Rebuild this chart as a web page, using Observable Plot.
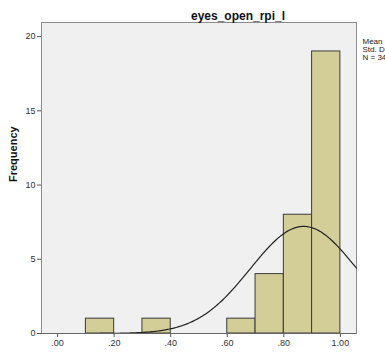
<!DOCTYPE html>
<html>
<head>
<meta charset="utf-8">
<script src="https://cdn.jsdelivr.net/npm/d3@7"></script>
<script src="https://cdn.jsdelivr.net/npm/@observablehq/plot@0.6"></script>
<style>
  body { margin: 0; background: #fff; }
  svg { font-family: Arial, "Liberation Sans", sans-serif; }
</style>
</head>
<body>
<div id="chart"></div>
<script>
const title = "eyes_open_rpi_l";
const binStarts = [0.1, 0.3, 0.6, 0.7, 0.8, 0.9];
const binCounts = [1, 1, 1, 4, 8, 19];
const binWidth = 0.1;
const xTicks = [0, 0.2, 0.4, 0.6, 0.8, 1.0];
const yTicks = [0, 5, 10, 15, 20];
const statLabels = ["Mean = 0.87", "Std. Dev. = 0.188", "N = 34"];
const fitMean = 0.87;
const fitSd = 0.188;
const fitN = 34;

const bins = binStarts.map((s, i) => ({x1: s, x2: s + binWidth, y: binCounts[i]}));
const xDomain = [-0.057, 1.057];
const curve = d3.range(0, 301).map(i => {
  const x = xDomain[0] + (xDomain[1] - xDomain[0]) * i / 300;
  const z = (x - fitMean) / fitSd;
  return {x, y: fitN * binWidth / (fitSd * Math.sqrt(2 * Math.PI)) * Math.exp(-0.5 * z * z)};
}).filter(d => d.x >= 0.15);

const chart = Plot.plot({
  width: 385,
  height: 353,
  marginLeft: 41,
  marginRight: 29,
  marginTop: 22,
  marginBottom: 20,
  style: {fontSize: "9px", color: "#333"},
  x: {domain: xDomain},
  y: {domain: [0, 20.95]},
  marks: [
    Plot.frame({fill: "#f0f0f0", stroke: "#8c8c8c"}),
    Plot.rectY(bins, {x1: "x1", x2: "x2", y: "y", fill: "#d3ce98", stroke: "#3a3a3a", strokeWidth: 1}),
    Plot.line(curve, {x: "x", y: "y", stroke: "#222", strokeWidth: 1.2}),
    Plot.axisX({ticks: xTicks, tickSize: 4, tickPadding: 2, tickFormat: d => d3.format(".2f")(d).replace(/^0/, ""), label: null, stroke: "#555"}),
    Plot.axisY({ticks: yTicks, tickSize: 4, tickPadding: 2, label: null, stroke: "#555"}),
    Plot.ruleY([0], {stroke: "#666"}),
    Plot.text([title], {frameAnchor: "top", dx: 39, dy: -11, fontSize: 12, fontWeight: "bold", fill: "#111"}),
    Plot.text(["Frequency"], {frameAnchor: "left", dx: -28, dy: 4, rotate: -90, fontSize: 11, fontWeight: "bold", fill: "#111"}),
    Plot.text([statLabels.join("\n")], {frameAnchor: "top-right", dx: 6, dy: 16, textAnchor: "start", lineAnchor: "top", lineHeight: 1.0, fontSize: 8, fill: "#222"})
  ]
});
document.getElementById("chart").appendChild(chart);
</script>
</body>
</html>
